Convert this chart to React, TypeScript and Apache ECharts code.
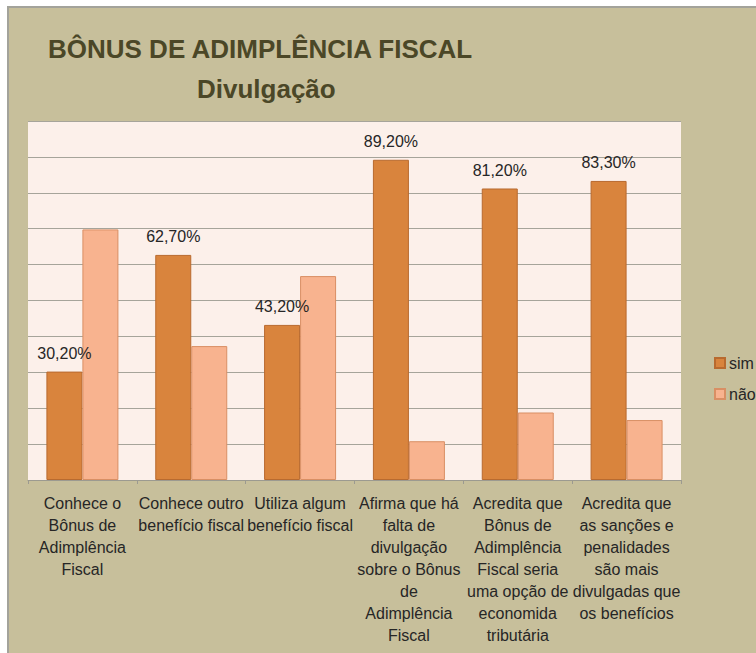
import React, { useEffect, useRef } from "react";
import * as echarts from "echarts";

const categories = [
  "Conhece o\nBônus de\nAdimplência\nFiscal",
  "Conhece outro\nbenefício fiscal",
  "Utiliza algum\nbenefício fiscal",
  "Afirma que há\nfalta de\ndivulgação\nsobre o Bônus\nde\nAdimplência\nFiscal",
  "Acredita que\nBônus de\nAdimplência\nFiscal seria\numa opção de\neconomida\ntributária",
  "Acredita que\nas sanções e\npenalidades\nsão mais\ndivulgadas que\nos benefícios",
];
const simValues = [30.2, 62.7, 43.2, 89.2, 81.2, 83.3];
const naoValues = [69.8, 37.3, 56.8, 10.8, 18.8, 16.7];
const seriesNames = ["sim", "não"];
const titleLine1 = "BÔNUS DE ADIMPLÊNCIA FISCAL";
const titleLine2 = "Divulgação";

const FONT = "'Liberation Sans', Arial, sans-serif";

export default function App() {
  const ref = useRef<HTMLDivElement>(null);
  useEffect(() => {
    if (!ref.current) return;
    const chart = echarts.init(ref.current, undefined, { renderer: "svg" });
    chart.setOption({
      animation: false,
      backgroundColor: "#c7bf9b",
      textStyle: { fontFamily: FONT },
      title: [
        {
          text: titleLine1,
          left: 34,
          top: 23,
          textStyle: { fontFamily: FONT, fontSize: 26, fontWeight: "bold", color: "#4b4727" },
        },
        {
          text: titleLine2,
          left: 183,
          top: 63,
          textStyle: { fontFamily: FONT, fontSize: 26, fontWeight: "bold", color: "#4b4727" },
        },
      ],
      legend: {
        orient: "vertical",
        left: 700,
        top: 342,
        itemWidth: 10,
        itemHeight: 10,
        itemGap: 15,
        icon: "rect",
        textStyle: { fontFamily: FONT, fontSize: 16, color: "#262626", padding: [0, 0, 0, -1] },
        data: seriesNames,
      },
      grid: {
        left: 19,
        right: 75,
        top: 113,
        bottom: 173,
        show: true,
        backgroundColor: "#fcf0ea",
        borderWidth: 0,
      },
      xAxis: {
        type: "category",
        data: categories,
        axisLine: { show: true, lineStyle: { color: "#9c9a90", width: 1 } },
        axisTick: { show: true, length: 4, lineStyle: { color: "#9c9a90" } },
        axisLabel: {
          interval: 0,
          margin: 12,
          fontFamily: FONT,
          fontSize: 16,
          lineHeight: 22,
          color: "#262626",
          align: "center",
          verticalAlign: "top",
        },
      },
      yAxis: {
        type: "value",
        min: 0,
        max: 100,
        interval: 10,
        axisLabel: { show: false },
        axisLine: { show: false },
        axisTick: { show: false },
        splitLine: { show: true, lineStyle: { color: "#a6a49a", width: 1 } },
      },
      series: [
        {
          name: seriesNames[0],
          type: "bar",
          data: simValues,
          barWidth: 36,
          barGap: "0%",
          itemStyle: { color: "#d9843d", borderColor: "#b86a2f", borderWidth: 1 },
          label: {
            show: true,
            position: "top",
            distance: 10,
            fontFamily: FONT,
            fontSize: 16,
            color: "#262626",
            formatter: (p: any) => p.value.toFixed(2).replace(".", ",") + "%",
          },
        },
        {
          name: seriesNames[1],
          type: "bar",
          data: naoValues,
          barWidth: 36,
          barGap: "0%",
          itemStyle: { color: "#f8b38f", borderColor: "#d98f64", borderWidth: 1 },
        },
      ],
    });
    return () => chart.dispose();
  }, []);
  return (
    <div
      style={{
        position: "fixed",
        left: 7,
        top: 6,
        width: 749,
        height: 647,
        borderTop: "2px solid #a3a39b",
        borderLeft: "2px solid #a3a39b",
        boxSizing: "border-box",
        background: "#c7bf9b",
      }}
    >
      <div ref={ref} style={{ width: 747, height: 645 }} />
    </div>
  );
}
